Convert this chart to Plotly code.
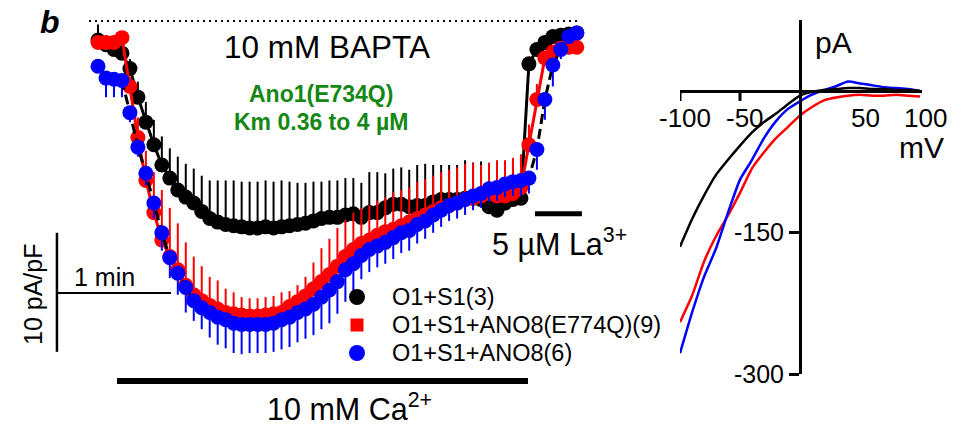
import plotly.graph_objects as go

W, H = 968, 425
FONT = "Liberation Sans, Arial, sans-serif"

# ---------------- time course (pA/pF vs s) ----------------
time_s = [0.0, 4.2, 8.4, 12.6, 16.8, 21.0, 25.2, 29.4, 33.6, 37.8, 42.0, 46.2, 50.4, 54.6,
          58.8, 63.0, 67.2, 71.4, 75.6, 79.8, 84.0, 88.2, 92.4, 96.6, 100.8, 105.0, 109.2,
          113.4, 117.6, 121.8, 126.0, 130.2, 134.4, 138.6, 142.8, 147.0, 151.2, 155.4, 159.6,
          163.8, 168.0, 172.2, 176.4, 180.6, 184.8, 189.0, 193.2, 197.4, 201.6, 205.8, 210.0,
          214.2, 218.4, 222.6, 226.8, 231.0, 235.2, 239.4, 243.6, 247.8, 252.0]

black_mean = [-1.6, -2.0, -2.4, -2.7, -4.0, -6.4, -8.5, -10.4, -12.1, -13.2,
              -14.2, -14.8, -15.3, -16.0, -16.6, -16.9, -17.1, -17.2, -17.3, -17.4,
              -17.4, -17.3, -17.4, -17.3, -17.2, -17.1, -17.0, -16.8, -16.6, -16.5,
              -16.5, -16.3, -16.2, -16.5, -16.1, -16.1, -15.7, -15.4, -15.4, -15.6,
              -15.5, -15.5, -15.2, -15.0, -15.0, -15.0, -14.9, -14.9, -15.0, -15.6,
              -15.9, -15.3, -15.0, -14.9, -3.6, -2.4, -1.8, -1.3, -1.2, -1.1, -1.0]
black_sem = [1.3, 0.3, 0.3, 0.7, 0.8, 1.3, 1.7, 2.1, 2.4, 2.5,
             2.8, 2.8, 2.9, 3.0, 3.2, 3.5, 3.7, 3.8, 3.8, 3.9,
             3.9, 3.9, 3.9, 3.9, 3.7, 3.5, 3.4, 3.3, 3.1, 3.1,
             3.1, 3.1, 3.0, 2.9, 3.4, 3.4, 2.9, 3.0, 3.1, 3.1,
             3.4, 3.5, 3.1, 2.9, 2.9, 2.9, 3.2, 3.0, 3.2, 3.6,
             3.8, 3.4, 3.0, 2.4, 0.3, 0.3, 0.2, 0.2, 0.2, 0.2, 0.2]

red_mean = [-1.8, -1.8, -1.8, -1.4, -5.5, -9.8, -13.4, -16.1, -18.4, -19.8,
            -20.9, -22.2, -23.0, -23.5, -23.9, -24.2, -24.5, -24.6, -24.7, -24.8,
            -24.8, -24.7, -24.6, -24.5, -24.0, -23.6, -23.1, -22.5, -21.9, -21.3,
            -20.6, -19.8, -19.2, -18.7, -18.4, -18.0, -17.7, -17.5, -17.2, -16.9,
            -16.6, -16.3, -16.0, -15.7, -15.5, -15.3, -15.0, -14.9, -14.7, -14.5,
            -14.7, -14.7, -14.5, -14.0, -10.4, -6.6, -3.1, -2.6, -2.3, -2.2, -2.2]
red_sem = [0.3, 0.3, 0.3, 0.3, 0.8, 1.7, 2.5, 3.4, 4.2, 4.1,
           3.9, 3.6, 3.2, 2.9, 2.4, 2.4, 2.0, 1.8, 1.5, 1.5,
           1.5, 1.5, 1.5, 1.7, 1.3, 1.4, 1.6, 2.2, 2.8, 3.0,
           3.2, 3.1, 3.1, 3.0, 2.9, 2.9, 2.9, 3.1, 3.0, 2.9,
           3.1, 3.0, 3.0, 3.0, 3.0, 3.0, 3.0, 3.0, 2.6, 2.6,
           3.0, 3.0, 3.0, 2.8, 1.7, 1.3, 0.3, 0.3, 0.3, 0.3, 0.3]

blue_mean = [-3.8, -4.8, -4.9, -5.0, -7.7, -10.6, -12.8, -15.3, -17.8, -19.9,
             -21.2, -22.4, -23.5, -24.1, -24.5, -24.9, -25.1, -25.4, -25.5, -25.5,
             -25.5, -25.5, -25.4, -25.1, -24.9, -24.5, -24.2, -23.8, -23.2, -22.6,
             -21.9, -20.9, -20.4, -19.7, -19.2, -18.9, -18.6, -18.2, -17.8, -17.6,
             -17.1, -16.8, -16.3, -15.9, -15.5, -15.3, -15.0, -14.7, -14.5, -14.1,
             -14.0, -13.7, -13.5, -13.4, -13.2, -10.8, -6.6, -3.7, -2.4, -1.3, -1.0]
blue_sem = [0.3, 1.6, 1.5, 1.4, 0.8, 0.8, 1.0, 1.3, 1.5, 1.7,
            1.8, 2.1, 1.7, 1.8, 2.1, 2.3, 2.4, 2.5, 2.5, 2.4,
            2.4, 2.4, 2.4, 2.5, 2.5, 2.5, 2.5, 2.6, 2.7, 2.8,
            2.7, 2.7, 2.8, 2.0, 1.9, 1.8, 1.8, 1.8, 1.7, 1.7,
            1.6, 1.5, 1.5, 1.4, 1.3, 1.3, 1.3, 1.2, 1.2, 1.1,
            1.1, 1.1, 1.2, 1.3, 1.3, 1.7, 1.7, 1.8, 0.8, 0.3, 0.3]

series_names = ["O1+S1(3)", "O1+S1+ANO8(E774Q)(9)", "O1+S1+ANO8(6)"]

# ---------------- I-V (pA vs mV) ----------------
voltage_mV = [-100, -90, -80, -70, -60, -50, -40, -30, -20, -10, 0,
              10, 20, 30, 40, 50, 60, 70, 80, 90, 100]
iv_black = [-165, -136, -111, -89, -73, -58, -44, -33, -24, -14, -5,
            -1, 1, 2, 3, 3, 2, 2, 1, 1, 0]
iv_red = [-245, -217, -181, -154, -132, -108, -82, -65, -50, -38, -26,
          -17, -10, -7, -5, -4, -5, -5, -4, -5, -6]
iv_blue = [-278, -235, -197, -167, -129, -94, -73, -50, -32, -19, -11,
           -4, 1, 5, 10, 8, 6, 4, 3, 2, 0]
iv_xticks = [-100, -50, 50, 100]
iv_yticks = [-150, -300]

BLACK, RED, BLUE = "#000000", "#ff0000", "#0000ff"
GREEN = "rgb(20,135,20)"
zeros = [0] * len(time_s)

fig = go.Figure()

# time course traces (black, red, blue on top)
fig.add_trace(go.Scatter(
    x=time_s, y=black_mean, mode="lines+markers", showlegend=False, name=series_names[0],
    line=dict(color=BLACK, width=3),
    marker=dict(color=BLACK, size=15, line=dict(width=0)),
    error_y=dict(type="data", symmetric=False, array=black_sem, arrayminus=zeros,
                 color=BLACK, thickness=2, width=0),
    xaxis="x", yaxis="y"))
fig.add_trace(go.Scatter(
    x=time_s, y=red_mean, mode="lines+markers", showlegend=False, name=series_names[1],
    line=dict(color=RED, width=3),
    marker=dict(color=RED, size=15, line=dict(width=0)),
    error_y=dict(type="data", symmetric=False, array=red_sem, arrayminus=zeros,
                 color=RED, thickness=2, width=0),
    xaxis="x", yaxis="y"))
fig.add_trace(go.Scatter(
    x=time_s, y=blue_mean, mode="lines+markers", showlegend=False, name=series_names[2],
    line=dict(color=BLACK, width=3, dash="10px,5px"),
    marker=dict(color=BLUE, size=15, line=dict(width=0)),
    error_y=dict(type="data", symmetric=False, array=zeros, arrayminus=blue_sem,
                 color=BLUE, thickness=2, width=0),
    xaxis="x", yaxis="y"))

# I-V traces
for ys, col in [(iv_red, RED), (iv_blue, BLUE), (iv_black, BLACK)]:
    fig.add_trace(go.Scatter(x=voltage_mV, y=ys, mode="lines", showlegend=False,
                             line=dict(color=col, width=2.5, shape="spline", smoothing=0.5),
                             xaxis="x2", yaxis="y2"))

# ---------- axes geometry ----------
PX_PER_S = 1.9          # 1 min = 114 px
T0_PX = 98              # t = 0
PX_PER_PAPF = 11.9      # 10 pA/pF = 119 px
Y0_PX = 21              # 0 pA/pF

x_range = [-T0_PX / PX_PER_S, (W - T0_PX) / PX_PER_S]
y_range = [-(H - Y0_PX) / PX_PER_PAPF, Y0_PX / PX_PER_PAPF]

def px(xp):
    return xp / W

def py(yp):
    return 1 - yp / H

fig.update_layout(
    width=W, height=H, margin=dict(l=0, r=0, t=0, b=0, pad=0, autoexpand=False),
    paper_bgcolor="white", plot_bgcolor="rgba(0,0,0,0)",
    font=dict(family=FONT, color="black"),
    showlegend=False,
    xaxis=dict(domain=[0, 1], range=x_range, visible=False, fixedrange=True),
    yaxis=dict(domain=[0, 1], range=y_range, visible=False, fixedrange=True),
    xaxis2=dict(domain=[px(680), px(922)], range=[-100, 101.67], anchor="free",
                position=py(91), showline=True, linewidth=3, linecolor="black",
                ticks="", showticklabels=False, showgrid=False, zeroline=False,
                automargin=False),
    yaxis2=dict(domain=[py(374), py(20)], range=[-300, 75.2], anchor="free",
                position=px(800), showline=True, linewidth=3, linecolor="black",
                ticks="outside", ticklen=10, tickwidth=3, tickcolor="black",
                tickvals=iv_yticks, ticktext=[str(v) for v in iv_yticks],
                tickfont=dict(size=25, family=FONT), showgrid=False, zeroline=False,
                automargin=False),
)

shapes = []
# zero (baseline) dotted line
shapes.append(dict(type="line", xref="x", yref="y", x0=-4.7, x1=252.6, y0=0, y1=0,
                   line=dict(color="black", width=2, dash="2px,4px")))
# scale bars: 10 pA/pF vertical, 1 min horizontal
sb_t, sb_i = -21.6, -17.8
shapes.append(dict(type="line", xref="x", yref="y", x0=sb_t, x1=sb_t, y0=sb_i, y1=sb_i - 10,
                   line=dict(color="black", width=2.5)))
shapes.append(dict(type="line", xref="x", yref="y", x0=sb_t, x1=sb_t + 60, y0=-22.86, y1=-22.86,
                   line=dict(color="black", width=2)))
# 10 mM Ca2+ bar and La3+ bar
shapes.append(dict(type="line", xref="x", yref="y", x0=10, x1=226.3, y0=-30.25, y1=-30.25,
                   line=dict(color="black", width=6)))
shapes.append(dict(type="line", xref="x", yref="y", x0=230, x1=254.7, y0=-16.2, y1=-16.2,
                   line=dict(color="black", width=5)))
# x ticks of I-V axis (-100, -50)
for v in iv_xticks[:2]:
    shapes.append(dict(type="line", xref="x2", yref="y2", x0=v, x1=v, y0=0, y1=-10.6,
                       line=dict(color="black", width=3)))

ann = []
def text(s, x, y, size, xanchor="center", color="black", angle=0):
    ann.append(dict(text=s, x=px(x), y=py(y), xref="paper", yref="paper",
                    xanchor=xanchor, yanchor="middle", showarrow=False, textangle=angle,
                    font=dict(size=size, color=color, family=FONT)))

# manual legend: symbol + label
legend_rows = [297, 325, 353]
for name, col, sym, sz, yrow in zip(series_names, [BLACK, RED, BLUE],
                                    ["circle", "rect", "circle"], [16, 13, 16], legend_rows):
    shapes.append(dict(type=sym, xref="paper", yref="paper",
                       xsizemode="pixel", ysizemode="pixel",
                       xanchor=px(357), yanchor=py(yrow),
                       x0=-sz / 2, x1=sz / 2, y0=-sz / 2, y1=sz / 2,
                       fillcolor=col, line=dict(width=0)))
    text(name, 390, yrow, 23.5, xanchor="left")

fig.update_layout(shapes=shapes)

text("<b><i>b</i></b>", 50, 22, 32)
text("10 mM BAPTA", 327, 47, 31.5)
text("<b>Ano1(E734Q)</b>", 321, 94, 23, color=GREEN)
text("<b>Km 0.36 to 4 µM</b>", 321, 122, 23, color=GREEN)
text("1 min", 104, 277, 25)
text("10 pA/pF", 33, 295, 25, angle=-90)
text("5 µM La<sup>3+</sup>", 490, 242, 30.5, xanchor="left")
text("10 mM Ca<sup>2+</sup>", 265, 407, 30.5, xanchor="left")
text("pA", 813, 42, 30, xanchor="left")
text("mV", 897, 147, 30, xanchor="left")
for v in iv_xticks:
    ann.append(dict(text=str(v), x=v, y=0, xref="x2", yref="y2", xanchor="center",
                    yanchor="middle", yshift=-27, xshift=5, showarrow=False,
                    font=dict(size=26, family=FONT, color="black")))
fig.update_layout(annotations=ann)

fig.write_html("out.html")
